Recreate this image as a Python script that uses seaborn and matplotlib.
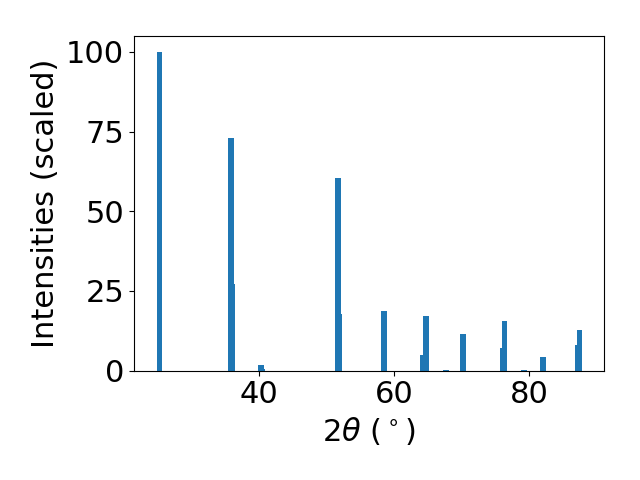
import seaborn as sns
import pandas as pd
import matplotlib.pyplot as plt

# peak positions (2theta, degrees) and scaled intensities
two_theta = [25.22, 35.95, 35.80, 40.25, 40.40, 51.83, 51.68, 58.50, 64.29, 64.66,
             67.63, 70.22, 76.02, 76.32, 79.20, 82.02, 87.14, 87.44]
intensity = [100.0, 27.3, 72.9, 1.8, 0.5, 17.8, 60.3, 18.8, 4.9, 17.2,
             0.3, 11.5, 7.1, 15.6, 0.3, 4.3, 8.1, 12.8]

bar_width = 0.85

plt.rcParams.update({'font.size': 22})

df = pd.DataFrame({'two_theta': two_theta, 'intensity': intensity})

fig, ax = plt.subplots(figsize=(6.4, 4.8), dpi=100)
sns.barplot(data=df, x='two_theta', y='intensity', native_scale=True,
            errorbar=None, color='#1f77b4', saturation=1, ax=ax)

# give every peak the same width and keep the taller bars in front
for patch in ax.patches:
    cx = patch.get_x() + patch.get_width() / 2
    patch.set_width(bar_width)
    patch.set_x(cx - bar_width / 2)
    patch.set_zorder(2 + patch.get_height() / 1000)
    patch.set_edgecolor('none')

ax.set_xlim(21.4, 91.1)
ax.set_ylim(0, 105)
ax.set_xticks([40, 60, 80])
ax.set_yticks([0, 25, 50, 75, 100])
ax.set_xlabel(r'$2\theta$ ($^\circ$)')
ax.set_ylabel('Intensities (scaled)')

fig.subplots_adjust(left=0.209, right=0.944, top=0.925, bottom=0.228)
plt.savefig('out.png')
